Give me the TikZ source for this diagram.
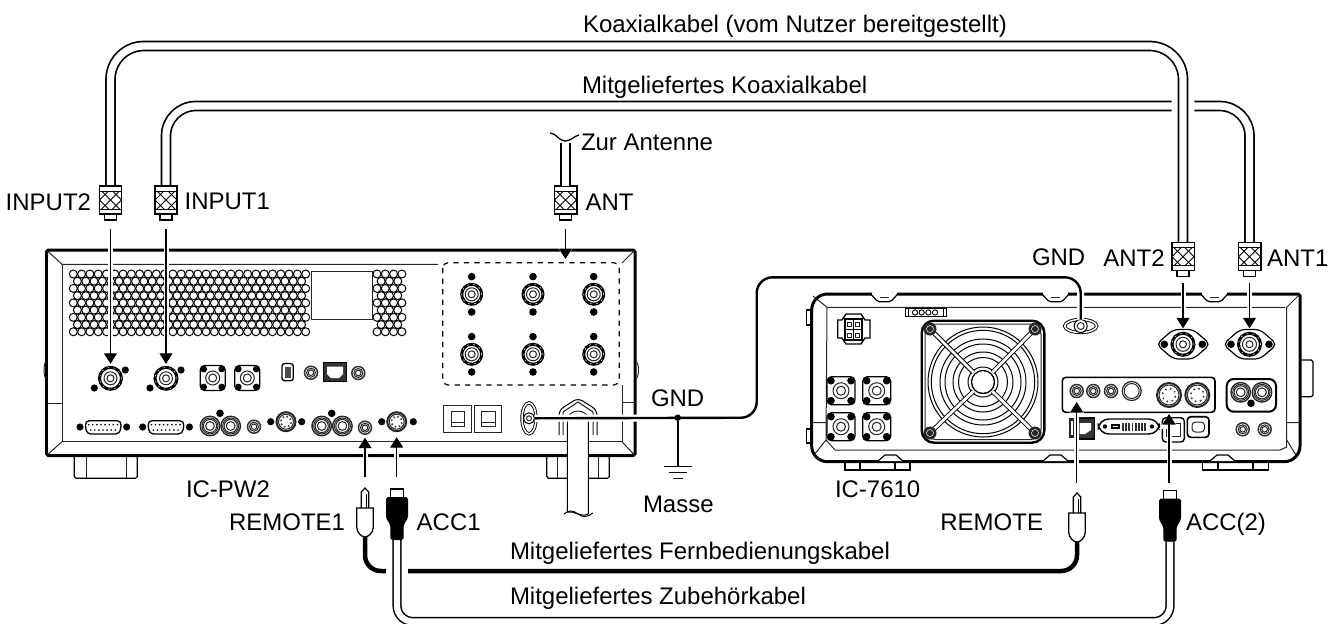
\documentclass[tikz,border=0pt]{standalone}
\usepackage{fontspec}
\setmainfont{Liberation Sans}
\usetikzlibrary{arrows.meta, positioning, calc}
\def\pxu{0.569pt}

\begin{document}
\begin{tikzpicture}[
    x=0.02cm, y=-0.02cm,
    lbl/.style={inner sep=0pt, outer sep=0pt, font=\fontsize{13.65}{16}\selectfont},
    bodyline/.style={line width=3*\pxu, black},
    thinline/.style={line width=1*\pxu, black!85},
    ringline/.style={line width=1*\pxu, black!85},
    coax/.style={draw, line width=1.7*\pxu, double=white, double distance=7.3*\pxu},
    coaxplug/.style={rectangle, draw, fill=white, line width=1.5*\pxu, minimum width=22.5*\pxu, minimum height=28*\pxu, inner sep=0pt, outer sep=0pt,
        path picture={
            \begin{scope}[shift={(path picture bounding box.center)}, line width=0.8*\pxu]
            \draw (-12,-9) -- (12,-9) (-12,9) -- (12,9);
            \foreach \d in {-22,-11,0,11,22} \draw (\d-9,-9) -- (\d+9,9) (\d+9,-9) -- (\d-9,9);
            \end{scope}}},
    sigarr/.style={-{Triangle[width=13*\pxu, length=10.5*\pxu]}, line width=1.1*\pxu,
        preaction={draw=white, line width=5*\pxu, -{Triangle[width=19*\pxu, length=15*\pxu]}}},
    gndwire/.style={line width=2.4*\pxu, black, preaction={draw=white, line width=7*\pxu}},
    rings/.style={path picture={\foreach \r in {#1} \draw[ringline] (path picture bounding box.center) circle ({\r*\pxu});}},
    sock/.style={circle, draw, fill=white, line width=3*\pxu, minimum size=22*\pxu, inner sep=0pt, outer sep=0pt, rings={6.5,3.5},
        postaction={draw=white, line width=0.5*\pxu, dash pattern=on 1pt off 2.5pt}},
    jack/.style={circle, draw=black!80, fill=white, line width=1.5*\pxu, minimum size=13*\pxu, inner sep=0pt, outer sep=0pt, rings={4.5,2.8}},
    rca/.style={circle, draw=black!85, fill=white, line width=1.4*\pxu, minimum size=19.5*\pxu, inner sep=0pt, outer sep=0pt, rings={8,6.6,4.4}},
    din/.style={circle, draw=black!85, fill=white, line width=2*\pxu, minimum size=#1*\pxu, inner sep=0pt, outer sep=0pt,
        path picture={\foreach \a in {15,60,...,330} \fill[black!75, shift={(path picture bounding box.center)}] (\a:{#1*0.27}) circle (1.1);
            \draw[ringline] (path picture bounding box.center) circle ({(#1/2-2)*\pxu});}},
    bolt/.style={circle, draw, fill=white, line width=1*\pxu, minimum size=10*\pxu, inner sep=0pt, outer sep=0pt, rings={2.5}},
    gnddot/.style={circle, fill=black, minimum size=6.5*\pxu, inner sep=0pt, outer sep=0pt}
]
\useasboundingbox (0,0) rectangle (1343,623);

% cables on top
\coordinate (kabeltop) at (700,46);
\coordinate (kabelmid) at (700,106);
\coordinate (rembase) at (700,571);
\coordinate (accbase) at (700,621.5);
\coordinate (gndup) at (900,277.3);
\coordinate (gndturn) at (756.7,417.7);
\coordinate (earth) at (677.7,466.7);

\node[coaxplug] (inp2) at (110.5,200) {};
\node[coaxplug] (inp1) at (166,200) {};
\node[coaxplug] (antp) at (565.5,200) {};
\node[coaxplug] (ant2) at (1183,256.7) {};
\node[coaxplug] (ant1) at (1249.5,256.7) {};

\draw[coax, rounded corners=17pt] (inp1.north) |- (kabelmid) -| (ant1.north);
\draw[coax, rounded corners=19pt, preaction={draw=white, line width=13pt}] (inp2.north) |- (kabeltop) -| (ant2.north);
\foreach \p in {inp2,inp1,antp,ant2,ant1} {
    \node[coaxplug] at (\p) {};
    \draw[line width=1.2*\pxu] ([xshift=-6*\pxu]\p.south) rectangle ([xshift=6*\pxu, yshift=-6*\pxu]\p.south);
}
\draw[coax] (antp.north) -- ([yshift=43*\pxu]antp.north);
\draw[line width=1.3*\pxu, fill=white] (550,133) .. controls (556,133) and (559,141) .. (565,141) .. controls (571,141) and (574,136) .. (579,135);

% IC-PW2
\draw[line width=1.2*\pxu, fill=white, rounded corners=1pt] (74.3,455) rectangle (137.3,478.3);
\draw[thinline] (86.7,455) -- (86.7,478) (126,455) -- (126,478);
\draw[line width=1.2*\pxu, fill=white, rounded corners=1pt] (546.7,455) rectangle (609.3,478.3);
\draw[thinline] (557,455) -- (557,478) (598,455) -- (598,478);
\draw[bodyline, rounded corners=1pt] (46.5,250) rectangle (635,455.5);
\draw[thinline] (46.5,250) -- (62,264.3) -- (438,264.3);
\draw[thinline] (62,264.3) -- (62,441.7) -- (622,441.7) -- (622,385);
\draw[thinline] (46.5,455.5) -- (62,441.7) (622,441.7) -- (635,455.5) (635,250) -- (622,263);
\draw[thinline] (46.5,403) -- (62,403) (622,402.7) -- (635,402.7);
\draw[thinline] (46,378) arc (90:270:2 and 8) (636,378) arc (90:-90:2.5 and 8);
\draw[line width=1.2*\pxu, dashed, rounded corners=3pt] (442.7,262.7) rectangle (619.3,385);

% grille
\foreach \row in {0,...,8} {
    \pgfmathtruncatemacro{\odd}{mod(\row,2)}
    \pgfmathsetmacro{\yy}{274+7.22*\row}
    \pgfmathsetmacro{\xa}{73.3+4.15*\odd}
    \pgfmathsetmacro{\xb}{377+4.15*\odd}
    \pgfmathtruncatemacro{\na}{28-\odd}
    \pgfmathtruncatemacro{\nb}{3-\odd}
    \foreach \k in {0,...,\na} \draw[line width=1*\pxu] ({\xa+8.3*\k},\yy) circle (4);
    \foreach \k in {0,...,\nb} \draw[line width=1*\pxu] ({\xb+8.3*\k},\yy) circle (4);
}
\draw[thinline, fill=white] (311,271.7) rectangle (372,319.3);

% IC-PW2 row 1
\node[sock] (pwso2) at (110.5,378.3) {};
\node[sock] (pwso1) at (166,378.3) {};
\fill (125.3,370) circle (3.6) (94.3,388) circle (3.6) (181,370) circle (3.6) (150,388) circle (3.6);
\foreach \x in {212.7,247.3} {
    \draw[line width=1.2*\pxu, rounded corners=2.5pt] (\x-12.5,365.5) rectangle (\x+12.5,390.5);
    \fill (\x-9,369) circle (3.4) (\x+9,369) circle (3.4) (\x-9,387) circle (3.4) (\x+9,387) circle (3.4);
    \draw[ringline] (\x,378) circle (7) (\x,378) circle (4);
}
\draw[line width=1.3*\pxu, rounded corners=1.5pt] (282,363.5) rectangle (293.3,380.7);
\fill[black!70] (284.8,366.5) rectangle (290.5,377.7);
\node[jack] (pwj1) at (311,372.7) {};
\draw[fill=black!80] (323.3,362.7) rectangle (346.7,381.7);
\fill[white] (327,366.5) -- (343,366.5) -- (343,374) -- (339,378) -- (331,378) -- (327,374) -- cycle;
\node[jack] (pwj2) at (358.3,373) {};

% BNC panel
\foreach \x in {471.7,533,593.7} \foreach \y in {294.3,354.3} {
    \fill (\x,\y-17.7) circle (3.8) (\x,\y+17.7) circle (3.8);
    \node[sock, minimum size=20*\pxu] (bnc) at (\x,\y) {};
}

% IC-PW2 row 2
\foreach \x in {80,142.7} {
    \fill (\x,427) circle (3.6) (\x+46.7,427) circle (3.6);
    \draw[line width=1.3*\pxu, fill=white, rounded corners=2.5pt] (\x+5,420.7) -- (\x+41.5,420.7) -- (\x+40,434) -- (\x+6.5,434) -- cycle;
    \foreach \k in {0,...,7} \fill ({\x+8.7+\k*4.1},424.7) circle (0.9);
    \foreach \k in {0,...,6} \fill ({\x+10.7+\k*4.1},430) circle (0.9);
}
\foreach \x/\dx in {210/220,321.7/331.7} {
    \fill (\dx,413.3) circle (3.8);
    \node[rca] (pwrcaa) at (\x,426) {};
    \node[rca] (pwrcab) at (\x+20.7,426) {};
}
\node[jack] (pwj3) at (254,426.7) {};
\fill (270.7,421.7) circle (3.6) (301.7,421.7) circle (3.6);
\node[din=19] (pwdin) at (286,421.7) {};
\node[jack] (pwrem) at (365,427.7) {};
\fill (381.7,421.7) circle (3.6) (413.3,421.7) circle (3.6);
\node[din=19] (pwacc) at (396.7,421.7) {};
\foreach \x in {443.3,474} {
    \draw[thinline] (\x,405) rectangle (\x+27.7,432.7);
    \draw[thinline] (\x+7.7,411.7) rectangle (\x+21,426) (\x+7.7,422.7) -- (\x+21,422.7);
}

% cord gland
\draw[line width=1*\pxu, fill=white, rounded corners=3pt] (559,435) -- (559,410) -- (578,398) -- (597,410) -- (597,435);
\draw[thinline] (563,435) -- (563,412) -- (578,402) -- (593,412) -- (593,435);
\draw[thinline] (567,421) arc (180:360:11 and 10);
\draw[line width=1*\pxu, fill=white] (567.3,417) -- (567.3,512) .. controls (574,510) and (580,518) .. (588.3,514) -- (588.3,417);
\draw[line width=1*\pxu] (564,514) .. controls (568,510) and (573,510) .. (578,514) .. controls (583,518) and (588,517) .. (592.7,513);

% IC-7610 feet and body
\draw[line width=1.2*\pxu, fill=white] (845,461) rectangle (910,470) (860,461) -- (860,470) (895,461) -- (895,470);
\draw[line width=1.2*\pxu, fill=white] (1202.7,461) rectangle (1268.3,470) (1218,461) -- (1218,470) (1253,461) -- (1253,470);
\draw[line width=1.2*\pxu, fill=white, rounded corners=1pt] (1300,360) -- (1313,360) -- (1313,396.7) -- (1300,396.7);
\draw[line width=1.2*\pxu, fill=white] (811.7,310) -- (806.7,310) -- (806.7,325) -- (811.7,325) (811.7,429) -- (806.7,429) -- (806.7,443) -- (811.7,443);
\draw[bodyline, rounded corners=9pt] (811.7,461.7) -- (811.7,294) [rounded corners=1pt] -- (1300,294) [rounded corners=9pt] -- (1300,461.7) -- cycle;
\draw[thinline] (813,296) -- (827,307.3) -- (1285,307.3) (1298,296) -- (1286.7,307.3) -- (1286.7,447) -- (1280,450) -- (835,450) (827,307.3) -- (826,440) -- (835,450);
\draw[thinline] (811.7,422.7) -- (826,422.7) (1286.7,422.7) -- (1300,422.7) (826,440) -- (814,455) (1286.7,440) -- (1296,455);
\foreach \x in {871.7,1043,1201.7} {
    \fill[white] (\x,291.5) rectangle (\x+25,296.5);
    \draw[line width=1.2*\pxu, rounded corners=1pt] (\x-1,294) -- (\x+6,301.7) -- (\x+19,301.7) -- (\x+26,294);
    \draw[thinline] (\x+8,297) -- (\x+17,297);
}
\foreach \x in {878,1043,1210} {
    \draw[line width=1.2*\pxu, fill=white] (\x,461) -- (\x+7,455) -- (\x+18,455) -- (\x+25,461);
}

% power socket and small header
\draw[line width=1.3*\pxu] (842,320) -- (846,314) -- (861,314) -- (865,320) -- (870,320) -- (870,338) -- (865,338) -- (861,344) -- (846,344) -- (842,338) -- (837.7,338) -- (837.7,320) -- cycle;
\draw[line width=1.3*\pxu] (845,319) rectangle (862,340) (853.5,319) -- (853.5,340) (845,329.5) -- (862,329.5);
\foreach \x/\y in {849.3/324,857.7/324,849.3/335,857.7/335} \draw[thinline] (\x-2,\y-2) rectangle (\x+2,\y+2);
\draw[line width=1*\pxu] (905,308.3) rectangle (946.7,316.7) (908,308.3) -- (908,316.7) (943.7,308.3) -- (943.7,316.7);
\foreach \x in {915,921.7,928.3,935} \draw[line width=0.9*\pxu] (\x,312.5) circle (2.6);

% fan
\draw[line width=2.4*\pxu, rounded corners=7pt] (921.7,320.7) rectangle (1044.3,442.7);
\draw[thinline, rounded corners=6pt] (925,324) rectangle (1041,439.5);
\foreach \r in {55,51.7,43,38,30,24.5,15,11.5} \draw[line width=1*\pxu] (983,382) circle (\r);
\foreach \x/\y in {930/329,1035/329,930/433,1035/433} {
    \draw[line width=0.9*\pxu, double=white, double distance=2.8*\pxu] (\x,\y) -- ($(983,382)!13.5/74!(\x,\y)$);
    \fill[black!85] (\x,\y) circle (6.5);
    \draw[white, line width=0.5*\pxu] (\x,\y) circle (3.5);
}
\draw[line width=1*\pxu] (983,382) circle (11.5);

% square sockets
\foreach \x/\y in {841/390.7,876.7/390.7,841/426.7,876.7/426.7} {
    \draw[line width=1.2*\pxu, rounded corners=2.5pt, fill=white] (\x-14,\y-14) rectangle (\x+14,\y+14);
    \fill (\x-10,\y-10) circle (3.8) (\x+10,\y-10) circle (3.8) (\x-10,\y+10) circle (3.8) (\x+10,\y+10) circle (3.8);
    \draw[ringline] (\x,\y) circle (8) (\x,\y) circle (4.5);
}

% rig sockets
\foreach \x in {1183.3,1250} {
    \draw[line width=1.2*\pxu, rounded corners=3pt, fill=white] (\x-27,344.3) -- (\x-10,329.5) -- (\x+10,329.5) -- (\x+27,344.3) -- (\x+10,359) -- (\x-10,359) -- cycle;
    \fill (\x-19,344.3) circle (3.8) (\x+19,344.3) circle (3.8);
}
\node[sock, rings={7,3.5}] (rigso2) at (1183,344.3) {};
\node[sock, rings={7,3.5}] (rigso1) at (1249.5,344.3) {};
\draw[line width=1.6*\pxu, rounded corners=2pt] (1062.3,377.3) rectangle (1215,412.3);
\node[jack] (rigrem) at (1076.7,391) {};
\node[jack] (rigj2) at (1093.3,391) {};
\node[jack] (rigj3) at (1111,391) {};
\node[circle, draw=black!85, line width=1.2*\pxu, minimum size=19*\pxu, inner sep=0pt, rings={7.5}] (rigbig) at (1131.7,391) {};
\node[din=24] (rigacc) at (1169,395) {};
\node[din=24] (rigacb) at (1197.3,395) {};
\draw[line width=2*\pxu, rounded corners=4pt] (1226.7,379) rectangle (1276,411.7);
\fill (1251,403.3) circle (3.8);
\node[rca] (rigrcaa) at (1240.7,392.3) {};
\node[rca] (rigrcab) at (1262,392.3) {};
\node[jack] (rigj4) at (1242.7,429.3) {};
\node[jack] (rigj5) at (1264.7,429.3) {};
\fill[black!85] (1069,418) rectangle (1075,438);
\fill[white] (1071,421) rectangle (1073,435);
\draw[line width=1.2*\pxu, fill=black!80] (1076.7,418) rectangle (1094.3,439);
\fill[white] (1079.7,423) -- (1091,423) -- (1091,430) -- (1085,434) -- (1079.7,434) -- cycle;
\draw[line width=1.4*\pxu, rounded corners=6pt] (1098.3,419) rectangle (1159.3,434);
\fill (1105,426.5) circle (2.2) (1152,426.5) circle (2.2);
\draw[line width=1.1*\pxu] (1112,425) rectangle (1119,428);
\foreach \k in {0,...,7} \fill[black!80] ({1122+\k*3.2},422.5) rectangle ({1123.8+\k*3.2},430.5);
\draw[line width=1.4*\pxu, rounded corners=2pt] (1162.3,417.7) rectangle (1184.3,442);
\draw[thinline] (1166.5,423) rectangle (1180,436);
\draw[line width=1.6*\pxu, rounded corners=2pt] (1187.3,416.7) rectangle (1209,437.3);
\draw[thinline, rounded corners=2pt] (1192,422) rectangle (1204.5,432);

% GND
\draw[line width=0.9*\pxu, double=white, double distance=1.5*\pxu] (529,418.3) ellipse (7 and 15.5);
\node[bolt, minimum size=11*\pxu] (pwgnd) at (529,418.3) {};
\draw[line width=0.9*\pxu, double=white, double distance=1.5*\pxu] (1080.7,326) ellipse (16 and 6.5);
\node[bolt, minimum size=13*\pxu, rings={3.5}, fill=white] (riggnd) at (1080.7,326) {};
\draw[gndwire, rounded corners=9pt] (pwgnd.east) -- (gndturn) |- (gndup) -| (riggnd.north);
\node[gnddot] (gndjoint) at (677.7,417.7) {};
\draw[line width=2.4*\pxu] (gndjoint) -- (earth);
\draw[line width=1.1*\pxu] ($(earth)+(-14,0)$) -- ($(earth)+(14,0)$) ($(earth)+(-9,6)$) -- ($(earth)+(9,6)$) ($(earth)+(-5,12)$) -- ($(earth)+(5,12)$);

% arrows
\coordinate (remtipa) at (365,476.7);
\coordinate (acctipa) at (396.7,476.7);
\coordinate (remtipb) at (1076.7,483);
\coordinate (acctipb) at (1169,483);
\coordinate (anttip) at (565.5,259);
\draw[sigarr, shorten <=15*\pxu, shorten >=3.5*\pxu] (inp2) -- (pwso2);
\draw[sigarr, shorten <=15*\pxu, shorten >=3.5*\pxu] (inp1) -- (pwso1);
\draw[sigarr, shorten <=15*\pxu] (antp) -- (anttip);
\draw[sigarr, shorten <=12*\pxu, shorten >=5*\pxu] (ant2) -- (rigso2);
\draw[sigarr, shorten <=12*\pxu, shorten >=5*\pxu] (ant1) -- (rigso1);
\draw[sigarr, shorten >=3.5*\pxu] (remtipa) -- (pwrem);
\draw[sigarr, shorten >=6*\pxu] (acctipa) -- (pwacc);
\draw[sigarr, shorten >=4.5*\pxu] (remtipb) -- (rigrem);
\draw[sigarr, shorten >=7*\pxu] (acctipb) -- (rigacc);

% plugs and bottom cables
\coordinate (rem1end) at (365,537);
\coordinate (rem2end) at (1077,541.7);
\coordinate (acc1end) at (397,540);
\coordinate (acc2end) at (1170,541.7);
\draw[line width=4.5*\pxu, rounded corners=9pt] (rem1end) |- (rembase) -| (rem2end);
\draw[line width=1.5*\pxu, double=white, double distance=6.2*\pxu, rounded corners=9pt, preaction={draw=white, line width=12.5pt}] (acc1end) |- (accbase) -| (acc2end);
\foreach \cx/\cy in {365/488,1077/493} {
    \draw[line width=1.2*\pxu, fill=white, shift={(\cx,\cy)}] (-3.7,20) -- (-3.7,4) -- (0,0) -- (3.7,4) -- (3.7,20);
    \draw[line width=1.4*\pxu, shift={(\cx,\cy)}] (1.5,6) -- (1.5,20);
    \draw[line width=1.3*\pxu, fill=white, shift={(\cx,\cy)}] (-8.3,20) -- (8.3,20) -- (8.3,39) .. controls (8.3,45) and (3,49) .. (0,49) .. controls (-3,49) and (-8.3,45) .. (-8.3,39) -- cycle;
}
\foreach \cx/\cy in {397/489,1170/490.7} {
    \draw[line width=1.3*\pxu, fill=white, shift={(\cx,\cy)}] (-6.7,0) rectangle (6.7,9);
    \fill[shift={(\cx,\cy)}, rounded corners=1pt] (-11,8) -- (11,8) -- (11,29) -- (6.7,36) -- (6.7,51) -- (-6.7,51) -- (-6.7,36) -- (-11,29) -- cycle;
}

% labels
\node[lbl, left=4.7pt of inp2, yshift=-1pt] (linp2) {INPUT2};
\node[lbl, right=4.2pt of inp1, yshift=-1pt] (linp1) {INPUT1};
\node[lbl, right=5pt of antp, yshift=-1pt] (lant) {ANT};
\node[lbl, left=4pt of ant2, yshift=-1pt] (lant2) {ANT2};
\node[lbl, right=3.6pt of ant1, yshift=-1pt] (lant1) {ANT1};
\node[lbl, anchor=base west] (lkoaxa) at (583,32) {Koaxialkabel (vom Nutzer bereitgestellt)};
\node[lbl, anchor=base west] (lkoaxb) at (582,93) {Mitgeliefertes Koaxialkabel};
\node[lbl, anchor=base west] (lzur) at (581,150) {Zur Antenne};
\node[lbl, anchor=base west] (lgnda) at (1032,265) {GND};
\node[lbl, anchor=base west] (lgndb) at (651,406.7) {GND};
\node[lbl, anchor=base west] (lpw) at (186,497) {IC-PW2};
\node[lbl, anchor=base west] (lrig) at (835,497) {IC-7610};
\node[lbl, anchor=base west] (lmasse) at (643,512) {Masse};
\node[lbl, anchor=base east] (lrem1) at (345,530) {REMOTE1};
\node[lbl, anchor=base west] (lacc1) at (416.7,530) {ACC1};
\node[lbl, anchor=base east] (lrem2) at (1043,530) {REMOTE};
\node[lbl, anchor=base west] (lacc2) at (1186,530) {ACC(2)};
\node[lbl, anchor=base west] (lfern) at (510,559) {Mitgeliefertes Fernbedienungskabel};
\node[lbl, anchor=base west] (lzub) at (510,604) {Mitgeliefertes Zubehörkabel};
\end{tikzpicture}
\end{document}
